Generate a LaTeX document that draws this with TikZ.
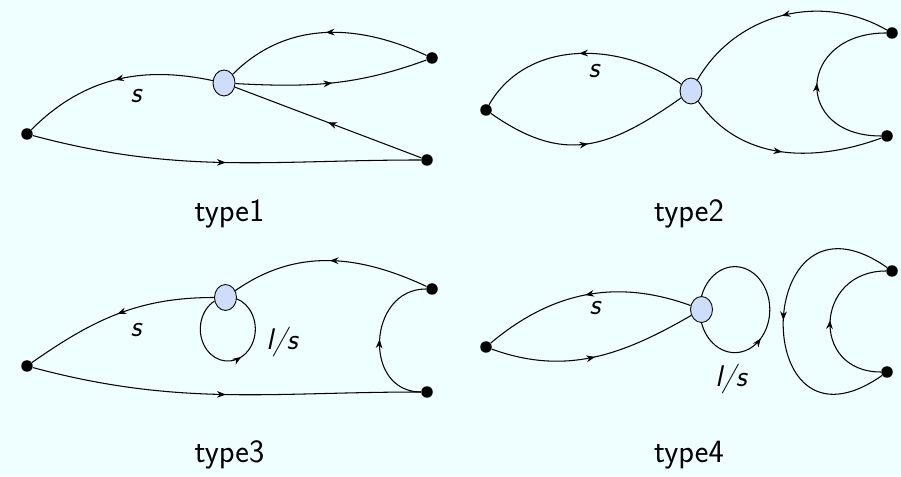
\documentclass[tikz,border=0pt]{standalone}
\usepackage{tikz}
\usetikzlibrary{arrows.meta, decorations.markings, shapes.geometric}
\definecolor{bgcyan}{RGB}{239,254,254}
\definecolor{vtxblue}{RGB}{206,222,250}

\begin{document}
\begin{tikzpicture}[
  x=0.02cm, y=0.02cm,
  vtx/.style={ellipse, draw=black, line width=0.5pt, fill=vtxblue, minimum width=0.44cm, minimum height=0.52cm, inner sep=0pt},
  dot/.style={circle, fill=black, minimum size=0.23cm, inner sep=0pt},
  conn/.style={line width=0.6pt},
  midarrow/.style={postaction={decorate}, decoration={markings, mark=at position #1 with {\arrow{Stealth[length=5pt,width=3.8pt]}}}},
  midarrow/.default=0.5,
  lbl/.style={font=\fontsize{17}{20}\selectfont\sffamily\slshape, anchor=base, inner sep=0pt},
  typelbl/.style={font=\fontsize{18.5}{22}\selectfont\sffamily, anchor=base, inner sep=0pt},
]
  % Background
  \path[use as bounding box, fill=bgcyan] (0,0) rectangle (901,476);

  % type1
  \node[dot] (l1) at (27,342) {};
  \node[vtx] (v1) at (224,393) {};
  \node[dot] (a1) at (432,418) {};
  \node[dot] (b1) at (427,316) {};
  \draw[conn, midarrow] (v1) to[out=168,in=45] (l1);
  \draw[conn, midarrow] (a1) to[out=155,in=45] (v1);
  \draw[conn, midarrow] (v1) to[out=-3,in=200] (a1);
  \draw[conn, midarrow] (b1) -- (v1);
  \draw[conn, midarrow] (l1) to[out=-15,in=180] (b1);
  \node[lbl] (s1) at (136,373) {s};
  \node[typelbl] (t1) at (229.5,254) {type1};

  % type2
  \node[dot] (l2) at (486,366) {};
  \node[vtx] (v2) at (691,385) {};
  \node[dot] (a2) at (892,443) {};
  \node[dot] (b2) at (887,340) {};
  \draw[conn, midarrow] (v2) to[out=145,in=60] (l2);
  \draw[conn, midarrow] (l2) to[out=-35,in=-145,looseness=1.2] (v2);
  \draw[conn, midarrow] (a2) to[out=150,in=60] (v2);
  \draw[conn, midarrow] (v2) to[out=-55,in=-160] (b2);
  \draw[conn, midarrow] (b2) to[out=180,in=180,looseness=2.2] (a2);
  \node[lbl] (s2) at (594,398) {s};
  \node[typelbl] (t2) at (689,254) {type2};

  % type3
  \node[dot] (l3) at (27,110) {};
  \node[vtx] (v3) at (225.5,178.5) {};
  \node[dot] (a3) at (432,187) {};
  \node[dot] (b3) at (427,84) {};
  \draw[conn, midarrow] (v3) to[out=180,in=35] (l3);
  \draw[conn, midarrow] (a3) to[out=155,in=35] (v3);
  \draw[conn, midarrow=0.57] (v3.198) arc[start angle=119, end angle=432, x radius=27.5, y radius=32];
  \draw[conn, midarrow] (l3) to[out=-15,in=180] (b3);
  \draw[conn, midarrow] (b3) to[out=180,in=180,looseness=1.45] (a3);
  \node[lbl] (s3) at (136,139) {s};
  \node[lbl] (ls3) at (282,126) {l/s};
  \node[typelbl] (t3) at (229.5,14) {type3};

  % type4
  \node[dot] (l4) at (486,129) {};
  \node[vtx] (v4) at (701.5,166.5) {};
  \node[dot] (a4) at (892,205) {};
  \node[dot] (b4) at (887,104) {};
  \draw[conn, midarrow] (v4) to[out=160,in=40] (l4);
  \draw[conn, midarrow] (l4) to[out=-20,in=-150] (v4);
  \draw[conn, midarrow=0.36] (v4.south) arc[start angle=-162, end angle=162, x radius=35, y radius=43];
  \draw[conn, midarrow] (a4) to[out=145,in=-145,looseness=3.9] (b4);
  \draw[conn, midarrow] (b4) to[out=180,in=180,looseness=1.8] (a4);
  \node[lbl] (s4) at (595,161) {s};
  \node[lbl] (ls4) at (731,89) {l/s};
  \node[typelbl] (t4) at (689,14) {type4};
\end{tikzpicture}
\end{document}
